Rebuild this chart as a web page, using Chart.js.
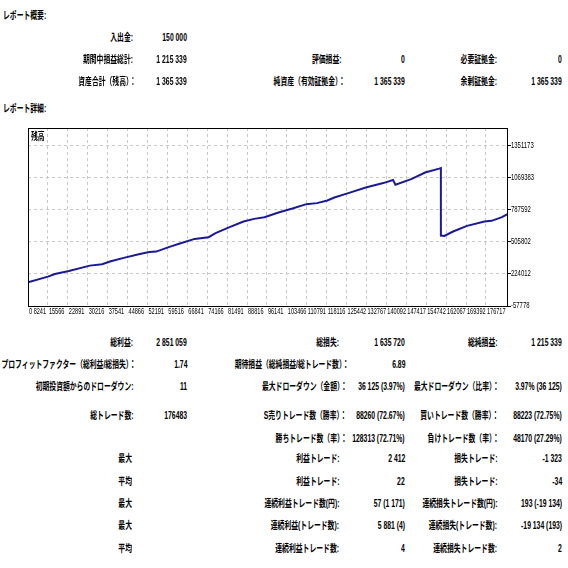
<!DOCTYPE html>
<html>
<head>
<meta charset="utf-8">
<script src="https://cdn.jsdelivr.net/npm/chart.js@4.4.1/dist/chart.umd.min.js"></script>
<style>
html, body { margin: 0; padding: 0; background: #fff; }
#page { position: relative; width: 568px; height: 568px; overflow: hidden;
        font: bold 10.5px "Liberation Sans", "Noto Sans CJK JP", sans-serif; color: #000; }
.t { position: absolute; white-space: nowrap; line-height: 12px; transform: scaleX(0.65); }
.r { transform-origin: 100% 50%; }
.l { transform-origin: 0 50%; }
#box { position: absolute; left: 0; top: 120px; width: 568px; height: 200px; }
</style>
</head>
<body>
<div id="page">
  <div id="box"><canvas id="myChart"></canvas></div>
</div>
<script>
// balance curve (trade no. / balance)
var tradeNo = [8241, 8241, 15578, 18148, 23288, 30998, 35496, 38708, 43848, 48988,
    52843, 55413, 60553, 64408, 69548, 74688, 77258, 82398, 87538, 91393,
    95248, 100388, 105528, 110668, 114523, 118378, 120948, 126088, 132513, 138938,
    142536, 143436, 149218, 154358, 159498, 160141, 160141, 161426, 164638, 169778,
    176203, 178773, 182628, 184840, 184840];
var balance = [0, 150000, 200200, 224000, 250400, 297100, 309300, 335900, 367500, 397500,
    417700, 420500, 464400, 493800, 532200, 547200, 582400, 635100, 684500, 708300,
    723000, 763800, 799000, 837700, 846600, 869500, 896000, 934600, 983900, 1022700,
    1050000, 1009000, 1057900, 1116000, 1150000, 1155000, 561900, 558600, 596900, 646700,
    684600, 690700, 723000, 752400, 1069383];

var xTickLabels = ['0', '8241', '15566', '22891', '30216', '37541', '44866', '52191', '59516',
    '66841', '74166', '81491', '88816', '96141', '103466', '110791', '118116', '125442',
    '132767', '140092', '147417', '154742', '162067', '169392', '176717'];
var yTickLabels = ['-57778', '224012', '505802', '787592', '1069383', '1351173'];

// report texts: [y, [text, right edge x], ...]
var summaryRows = [
    [37, ['入出金:', 133], ['150 000', 187]],
    [59, ['期間中損益総計:', 133], ['1 215 339', 187], ['評価損益:', 341], ['0', 405], ['必要証拠金:', 497], ['0', 562]],
    [81, ['資産合計（残高）：', 136], ['1 365 339', 187], ['純資産（有効証拠金）：', 345], ['1 365 339', 405], ['余剰証拠金:', 497], ['1 365 339', 562]]
];
var detailRows = [
    [342, ['総利益:', 133], ['2 851 059', 187], ['総損失:', 339], ['1 635 720', 405], ['総純損益:', 497], ['1 215 339', 562]],
    [364, ['プロフィットファクター（総利益/総損失）：', 136], ['1.74', 187], ['期待損益（総純損益/総トレード数）：', 349], ['6.89', 405]],
    [386, ['初期投資額からのドローダウン:', 133], ['11', 187], ['最大ドローダウン（金額）：', 347], ['36 125 (3.97%)', 405], ['最大ドローダウン（比率）：', 499], ['3.97% (36 125)', 562]],
    [415, ['総トレード数:', 133], ['176483', 187], ['S売りトレード数（勝率）：', 347], ['88260 (72.67%)', 405], ['買いトレード数（勝率）：', 499], ['88223 (72.75%)', 562]],
    [438, ['勝ちトレード数（率）：', 347], ['128313 (72.71%)', 405], ['負けトレード数（率）：', 499], ['48170 (27.29%)', 562]],
    [458, ['最大', 132], ['利益トレード:', 339], ['2 412', 405], ['損失トレード:', 497], ['-1 323', 562]],
    [481, ['平均', 132], ['利益トレード:', 339], ['22', 405], ['損失トレード:', 497], ['-34', 562]],
    [503, ['最大', 132], ['連続利益トレード数(円):', 339], ['57 (1 171)', 405], ['連続損失トレード数(円):', 497], ['193 (-19 134)', 562]],
    [525, ['最大', 132], ['連続利益(トレード数):', 339], ['5 881 (4)', 405], ['連続損失(トレード数):', 497], ['-19 134 (193)', 562]],
    [548, ['平均', 132], ['連続利益トレード数:', 339], ['4', 405], ['連続損失トレード数:', 497], ['2', 562]]
];

var page = document.getElementById('page');

function addText(text, x, y, left) {
    var d = document.createElement('div');
    d.className = 't ' + (left ? 'l' : 'r');
    d.textContent = text;
    d.style.top = (y - 6) + 'px';
    if (left) d.style.left = x + 'px';
    else d.style.right = (568 - x) + 'px';
    page.appendChild(d);
}

addText('レポート概要:', 3, 15, true);
addText('レポート詳細:', 3, 108, true);
addText('残高', 31, 136, true);
summaryRows.concat(detailRows).forEach(function(row) {
    for (var i = 1; i < row.length; i++) addText(row[i][0], row[i][1], row[0], false);
});

var points = tradeNo.map(function(t, i) { return {x: t, y: balance[i]}; });

// frame + tick labels squeezed like the MT4 report font
var tickText = {
    id: 'tickText',
    afterDraw: function(chart) {
        var ctx = chart.ctx, area = chart.chartArea;
        var xs = chart.scales.x, ys = chart.scales.y;
        ctx.save();
        ctx.strokeStyle = '#000';
        ctx.lineWidth = 1;
        ctx.strokeRect(area.left + 0.5, area.top + 0.5, area.right - area.left - 1, area.bottom - area.top);
        ctx.fillStyle = '#000';
        ctx.font = '9px "Liberation Sans", sans-serif';
        ctx.textBaseline = 'middle';
        ctx.textAlign = 'left';
        xs.ticks.forEach(function(t, i) {
            var px = xs.getPixelForValue(t.value);
            var label = i === 0 ? xTickLabels[0] + ' ' + xTickLabels[1] : t.label;
            ctx.save();
            ctx.translate(px + 1, area.bottom + 6);
            ctx.scale(0.62, 1);
            ctx.fillText(label, 0, 0);
            ctx.restore();
        });
        ys.ticks.forEach(function(t) {
            var py = ys.getPixelForValue(t.value);
            ctx.save();
            ctx.translate(area.right + 3, py);
            ctx.scale(0.66, 1);
            ctx.fillText(t.label, 0, 0);
            ctx.restore();
        });
        ctx.restore();
    }
};

var config = {
    type: 'line',
    data: {
        datasets: [{
            label: '残高',
            data: points,
            borderColor: '#1a1a96',
            borderWidth: 2,
            pointRadius: 0,
            tension: 0,
            fill: false,
            segment: {
                borderColor: function(c) { return c.p0DataIndex === 0 ? '#9a9ae0' : undefined; },
                borderWidth: function(c) { return c.p0DataIndex === 0 ? 1 : undefined; }
            }
        }]
    },
    options: {
        responsive: true,
        maintainAspectRatio: false,
        animation: false,
        layout: { padding: { left: 28, top: 8, right: 0, bottom: 0 } },
        plugins: {
            legend: { display: false },
            tooltip: { enabled: false },
            title: { display: false }
        },
        scales: {
            x: {
                type: 'linear',
                min: 8241,
                max: 184840,
                afterBuildTicks: function(scale) {
                    scale.ticks = xTickLabels.slice(1).map(function(v) { return {value: Number(v)}; });
                },
                afterFit: function(scale) { scale.height = 14; },
                ticks: { display: false, callback: function(v) { return String(v); } },
                grid: { color: '#c8c8c8', drawTicks: false },
                border: { display: false, dash: [3, 3] }
            },
            y: {
                type: 'linear',
                position: 'right',
                min: -57778,
                max: 1507000,
                afterBuildTicks: function(scale) {
                    scale.ticks = yTickLabels.map(function(v) { return {value: Number(v)}; });
                },
                afterFit: function(scale) { scale.width = 60; },
                ticks: { display: false, callback: function(v) { return String(v); } },
                grid: { color: '#c8c8c8', drawTicks: true, tickLength: 3, tickColor: '#000' },
                border: { display: false, dash: [3, 3] }
            }
        }
    },
    plugins: [tickText]
};

window.addEventListener('DOMContentLoaded', function() {
    var ctx = document.getElementById('myChart').getContext('2d');
    window.myLine = new Chart(ctx, config);
});
</script>
</body>
</html>
